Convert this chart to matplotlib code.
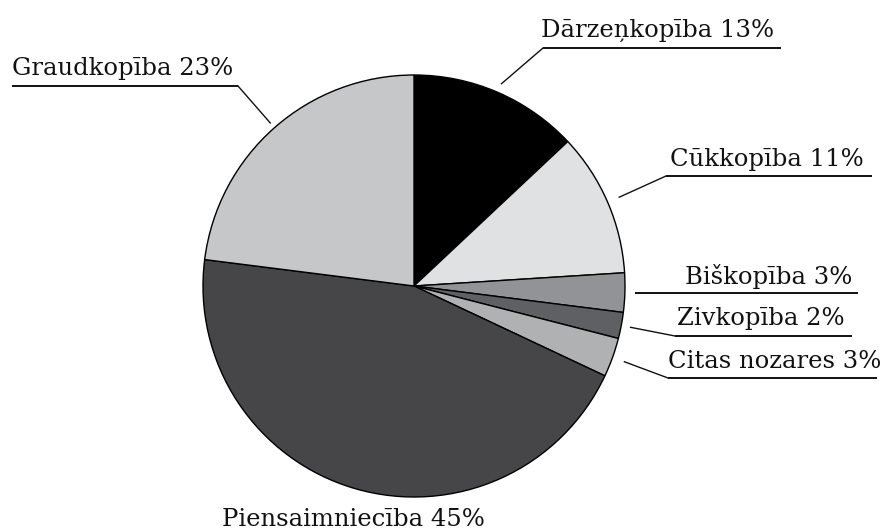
import numpy as np
import matplotlib
matplotlib.use("Agg")
import matplotlib.pyplot as plt

# ---- data ----
categories = ["Dārzeņkopība", "Cūkkopība", "Biškopība", "Zivkopība",
              "Citas nozares", "Piensaimniecība", "Graudkopība"]
shares = [13, 11, 3, 2, 3, 45, 23]
colors = ["#000000", "#e0e1e3", "#929396", "#5f6063",
          "#b0b1b3", "#464649", "#c6c7c9"]

# ---- layout (pixel coordinates of the 882x530 canvas) ----
W, H = 882, 530
CX, CY, R = 414, 286, 211
# text: (left x, baseline y); underline: (x0, x1, y) or None; leader: bool
layout = {
    "Dārzeņkopība":   dict(text=(541, 37),  uline=(543, 781, 48),  leader=True,  lr=1.045),
    "Cūkkopība":      dict(text=(670, 166), uline=(666, 872, 176), leader=True,  lr=1.06),
    "Biškopība":      dict(text=(685, 284), uline=(635, 858, 293), leader=False, lr=1.0),
    "Zivkopība":      dict(text=(677, 325), uline=(675, 852, 336), leader=True,  lr=1.045),
    "Citas nozares":  dict(text=(668, 368), uline=(668, 877, 378), leader=True,  lr=1.06),
    "Piensaimniecība": dict(text=(222, 526), uline=None,           leader=False, lr=1.0),
    "Graudkopība":    dict(text=(12, 75),   uline=(12, 238, 86),   leader=True,  lr=1.03),
}

def py(y):
    return H - y

fig = plt.figure(figsize=(W / 100, H / 100), dpi=100)
ax = fig.add_axes([0, 0, 1, 1])
ax.set_xlim(0, W)
ax.set_ylim(0, H)
ax.set_aspect("equal")
ax.axis("off")

wedges, _ = ax.pie(shares, colors=colors, startangle=90, counterclock=False,
                   center=(CX, py(CY)), radius=R,
                   wedgeprops=dict(edgecolor="black", linewidth=1.0),
                   frame=True)
ax.set_xlim(0, W)
ax.set_ylim(0, H)
ax.axis("off")

FONT = dict(family="DejaVu Serif", fontsize=17.5, color="#111111")

for w, cat, val in zip(wedges, categories, shares):
    lay = layout[cat]
    tx, ty = lay["text"]
    ax.text(tx, py(ty), f"{cat} {val}%", ha="left", va="baseline", **FONT)
    if lay["uline"] is not None:
        x0, x1, uy = lay["uline"]
        ax.plot([x0, x1], [py(uy), py(uy)], color="#111111", lw=1.4,
                solid_capstyle="butt")
        if lay["leader"]:
            mid = np.deg2rad((w.theta1 + w.theta2) / 2)
            ex = CX + R * lay["lr"] * np.cos(mid)
            ey = py(CY) + R * lay["lr"] * np.sin(mid)
            ax.plot([ex, x0 if x0 > CX else x1], [ey, py(uy)],
                    color="#111111", lw=1.0)

fig.savefig("out.png", dpi=100, facecolor="white")
